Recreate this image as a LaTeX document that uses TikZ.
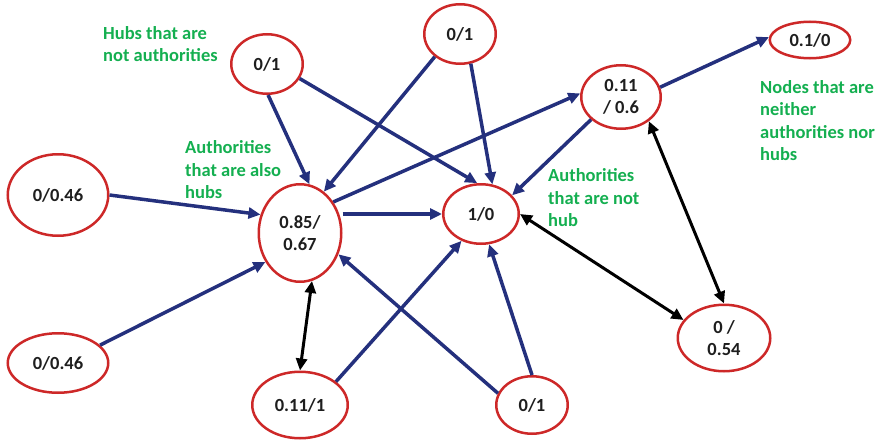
\documentclass[tikz,border=0pt]{standalone}
\usepackage{fontspec}
\setmainfont{Carlito}
\usetikzlibrary{shapes.geometric,arrows.meta}
\definecolor{ringred}{RGB}{205,40,40}
\definecolor{linkblue}{RGB}{36,48,125}
\definecolor{notegreen}{RGB}{20,175,80}
\definecolor{numgray}{RGB}{30,30,30}
\begin{document}
\begin{tikzpicture}[x=1pt,y=-1pt,
  txt/.style={font=\bfseries\fontsize{18.5}{22.3}\selectfont},
  score/.style={ellipse, draw=ringred, line width=2.5pt, fill=white,
    inner sep=0pt, align=center, txt, text=numgray},
  sz/.style 2 args={minimum width=#1pt, minimum height=#2pt},
  note/.style={anchor=north west, align=left, inner sep=0pt, txt, text=notegreen},
  link/.style={draw=linkblue, line width=3.5pt, -{Triangle[length=12pt,width=11pt]}},
  mutual/.style={draw=black, line width=3pt,
    {Triangle[length=12pt,width=11pt]}-{Triangle[length=12pt,width=11pt]}},
]
\useasboundingbox (0,0) rectangle (882,444);

% score nodes (authority / hub)
\node[score, sz={71.5}{59.5}] (A) at (267,64) {0/1};
\node[score, sz={71.5}{59.5}] (B) at (460,34) {0/1};
\node[score, sz={79.5}{63.5}] (C) at (621,97) {0.11\\/ 0.6};
\node[score, sz={80.5}{36.5}] (D) at (810,40) {0.1/0};
\node[score, sz={100.5}{81.5}] (E) at (58,195) {0/0.46};
\node[score, sz={82.5}{97.5}] (F) at (300,233) {0.85/\\0.67};
\node[score, sz={75.5}{59.5}] (G) at (481,214) {1/0};
\node[score, sz={100.5}{59.5}] (H) at (58,363) {0/0.46};
\node[score, sz={95.5}{66.5}] (I) at (300,405) {0.11/1};
\node[score, sz={71.5}{57.5}] (J) at (532,405) {0/1};
\node[score, sz={92.5}{66.5}] (K) at (724,338) {0 /\\0.54};

% directed links
\draw[link] (A.-88) -- (F.79);
\draw[link] (A.-24) -- (G.97);
\draw[link] (B.222) -- (F.60);
\draw[link] (B.-70) -- (G.69);
\draw[link] (F.43) -- (C.175);
\draw[link] (C.14) -- (D.176);
\draw[link] (C.217) -- (G.31);
\draw[link] (E.east) -- (F.155);
\draw[link] (F.east |- G.west) -- (G.west);
\draw[link] (H.23) -- (F.220);
\draw[link] (I.33) -- (G.234);
\draw[link] (J.161) -- (F.-29);
\draw[link] (J.north) -- (G.-75);

% two-way links
\draw[mutual] (F.-76) -- (I.north);
\draw[mutual] (G.east) -- (K.156);
\draw[mutual] (C.-41) -- (K.north);

% annotations
\node[note] (n1) at (103,26.5) {Hubs that are\\not authorities};
\node[note] (n2) at (185,140.5) {Authorities\\that are also\\hubs};
\node[note] (n3) at (548,168.5) {Authorities\\that are not\\hub};
\node[note] (n4) at (760,80.5) {Nodes that are\\neither\\authorities nor\\hubs};
\end{tikzpicture}
\end{document}
